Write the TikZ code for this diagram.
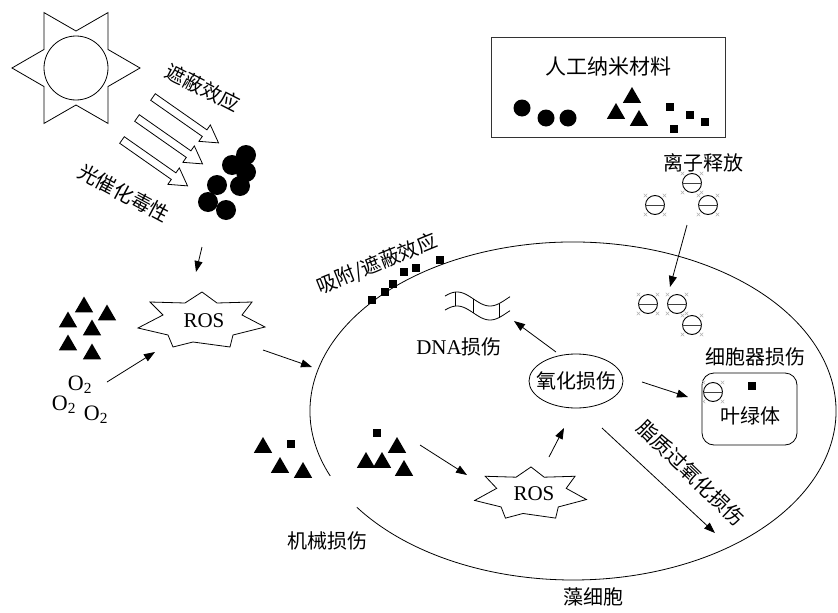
\documentclass[tikz,border=0pt]{standalone}
\usepackage{fontspec}
\setmainfont{Liberation Serif}
\newfontfamily\cjk{Noto Sans CJK SC}
\usetikzlibrary{arrows.meta,shapes.geometric}

% irregular seven-pointed burst drawn around a node
\newcommand\rosburst[3]{%
  \draw[shift={(#1)}, xscale=#2, yscale=#3, line width=0.8pt]
    (0,-28) -- (-17,-17) -- (-52,-18) -- (-39,-5) -- (-64,8) -- (-34,15)
    -- (-29,27) -- (-9,22) -- (28,27) -- (31,15) -- (63,7) -- (40,-5)
    -- (50,-18) -- (15,-17) -- cycle;}

\tikzset{
  ion/.pic={
    \node[circle, draw, minimum size=19pt, inner sep=0pt, line width=0.9pt] (-c) at (0,0) {};
    \draw[line width=1pt, black!75] (-c.west) -- (-c.east);
    \foreach \sx in {-1,1} \foreach \sy in {-1,1}
      \draw[gray!60, line width=0.45pt]
        ({\sx*9.5-1.8},{\sy*9.5-1.8}) -- ({\sx*9.5+1.8},{\sy*9.5+1.8})
        ({\sx*9.5-1.8},{\sy*9.5+1.8}) -- ({\sx*9.5+1.8},{\sy*9.5-1.8});
  }
}

\begin{document}
\begin{tikzpicture}[x=1pt, y=-1pt, line width=0.8pt,
  lbl/.style={inner sep=0pt, font=\cjk\fontsize{20pt}{24pt}\selectfont},
  latin/.style={inner sep=0pt, font=\fontsize{21pt}{24pt}\selectfont},
  arr/.style={-{Triangle[length=11pt,width=8pt]}, line width=0.8pt},
  tri/.style={regular polygon, regular polygon sides=3, minimum size=21pt, inner sep=0pt, fill=black},
  sq/.style={rectangle, minimum size=8.5pt, inner sep=0pt, fill=black},
  dot/.style={circle, minimum size=#1, inner sep=0pt, fill=black},
  dot/.default=17pt,
  beam/.style={line width=0.8pt}
]
\useasboundingbox (0,0) rectangle (838,613);

% ---- sun ----
\node[circle, draw, minimum size=64pt, inner sep=0pt] (sun) at (76,68) {};
\draw[shift={(sun.center)}] (0:64) \foreach \a in {0,60,...,300} { -- (\a+30:37) -- (\a+60:64) } -- cycle;

% ---- light beams ----
\foreach \p in {(153,97),(137,118),(122,140)}
  \draw[beam, shift={\p}, rotate=-35]
    (0,-4) -- (63,-4) -- (63,-10) -- (80,0) -- (63,10) -- (63,4) -- (0,4) -- cycle;
\node[lbl, rotate=-27] (shield) at (203,88) {遮蔽效应};
\node[lbl, rotate=-28] (photo) at (124,193) {光催化毒性};

% ---- particle cluster ----
\foreach \p [count=\i] in {(246,155),(232,165),(246,172),(217,185),(240,186),(208,202),(226,210)}
  \node[dot=20pt] (np\i) at \p {};

% ---- outer ROS ----
\node[latin] (ros1) at (204,321) {ROS};
\rosburst{202,320}{1}{1}
\coordinate (npOut) at (202,247);
\coordinate (ros1In) at (196,272);
\draw[arr] (npOut) -- (ros1In);

\foreach \p [count=\i] in {(84,307),(107,315),(68,322),(92,330),(68,345),(92,354)}
  \node[tri] (ta\i) at \p {};

\tikzset{oxy/.style={inner sep=0pt, font=\fontsize{22pt}{24pt}\selectfont}}
\node[oxy] (oxA) at (80,385) {O\textsubscript{2}};
\node[oxy] (oxB) at (64,405) {O\textsubscript{2}};
\node[oxy] (oxC) at (96,415) {O\textsubscript{2}};
\coordinate (oxOut) at (107,382);
\coordinate (ros1L) at (155,352);
\draw[arr] (oxOut) -- (ros1L);
\coordinate (ros1R) at (263,350);
\coordinate (cellL) at (312,367);
\draw[arr] (ros1R) -- (cellL);

% ---- algal cell ----
\coordinate (cell) at (573,411);
\draw (cell) ++(157.4:263 and 169) arc[start angle=157.4, end angle=505.3, x radius=263, y radius=169];
\node[lbl] (cellname) at (593,597) {藻细胞};

\foreach \p [count=\i] in {(372,300),(385,292),(393,284),(404,272),(416,268),(440,260)}
  \node[sq] (sm\i) at \p {};
\node[lbl, rotate=22] (adsorb) at (377,264) {吸附/遮蔽效应};

% ---- DNA ----
\draw[domain=445:510, samples=60, smooth] plot (\x, {299-7*sin((\x-440.5)*5.4545)});
\draw[domain=445:510, samples=60, smooth] plot (\x, {313-7*sin((\x-440.5)*5.4545)});
\foreach \xx in {455,473,499}
  \draw (\xx, {299-7*sin((\xx-440.5)*5.4545)}) -- (\xx, {313-7*sin((\xx-440.5)*5.4545)});
\node[lbl] (dna) at (459,347) {{\fontspec{Liberation Serif}\fontsize{21pt}{24pt}\selectfont DNA}损伤};

% ---- oxidative damage ----
\node[lbl] (oxd) at (576,381) {氧化损伤};
\draw (oxd.center) ellipse [x radius=47, y radius=27];
\coordinate (oxdNW) at (556,352);
\coordinate (dnaIn) at (514,321);
\draw[arr] (oxdNW) -- (dnaIn);
\coordinate (oxdE) at (642,382);
\coordinate (chlIn) at (688,397);
\draw[arr] (oxdE) -- (chlIn);
\coordinate (oxdSE) at (602,428);
\coordinate (lipEnd) at (715,533);
\draw[arr] (oxdSE) -- (lipEnd);
\node[lbl, rotate=-44] (lipid) at (691,473) {脂质过氧化损伤};

% ---- organelle ----
\node[lbl] (orgdmg) at (755,357) {细胞器损伤};
\node[draw, rounded corners=12pt, minimum width=95pt, minimum height=72pt, inner sep=0pt] (chl) at (749.5,409) {};
\node[lbl] (chlname) at (750,416) {叶绿体};
\pic (ionChl) at (713,392) {ion};
\node[sq] (sqChl) at (752,386) {};

% ---- nanomaterial box ----
\node[draw, black!80, line width=1pt, minimum width=234pt, minimum height=100pt, inner sep=0pt] (nm) at (608,87) {};
\node[lbl, font=\cjk\fontsize{21pt}{24pt}\selectfont] (nmname) at (608,67) {人工纳米材料};
\node[dot] (c1) at (522,108) {};
\node[dot] (c2) at (546,118) {};
\node[dot] (c3) at (568,118) {};
\node[tri] (tb1) at (632,97.5) {};
\node[tri] (tb2) at (616,113.5) {};
\node[tri] (tb3) at (639,120.5) {};
\foreach \p [count=\i] in {(670,107),(690,115),(705,122),(674,129)}
  \node[sq] (sb\i) at \p {};

% ---- ion release ----
\node[lbl] (release) at (703,163) {离子释放};
\pic (ionA) at (692,183) {ion};
\pic (ionB) at (655,205) {ion};
\pic (ionC) at (708,205) {ion};
\pic (ionD) at (648,304) {ion};
\pic (ionE) at (677,304) {ion};
\pic (ionF) at (692,325) {ion};
\coordinate (ionOut) at (687,225);
\coordinate (ionIn) at (670,287);
\draw[arr] (ionOut) -- (ionIn);

% ---- mechanical damage ----
\foreach \p [count=\i] in {(263,447.5),(280,467.5),(303,472.5)}
  \node[tri] (tc\i) at \p {};
\node[sq] (sc1) at (291,444) {};
\node[sq] (sd1) at (377,433) {};
\foreach \p [count=\i] in {(397,447.5),(366,462.5),(382,462.5),(404,470.5)}
  \node[tri] (td\i) at \p {};
\node[lbl] (mech) at (327,541) {机械损伤};

% ---- inner ROS ----
\node[latin] (ros2) at (534,494) {ROS};
\rosburst{531,493}{0.88}{0.93}
\coordinate (tdOut) at (420,445);
\coordinate (ros2In) at (467,475);
\draw[arr] (tdOut) -- (ros2In);
\coordinate (ros2Out) at (549,457);
\coordinate (oxdS) at (564,428);
\draw[arr] (ros2Out) -- (oxdS);
\end{tikzpicture}
\end{document}
